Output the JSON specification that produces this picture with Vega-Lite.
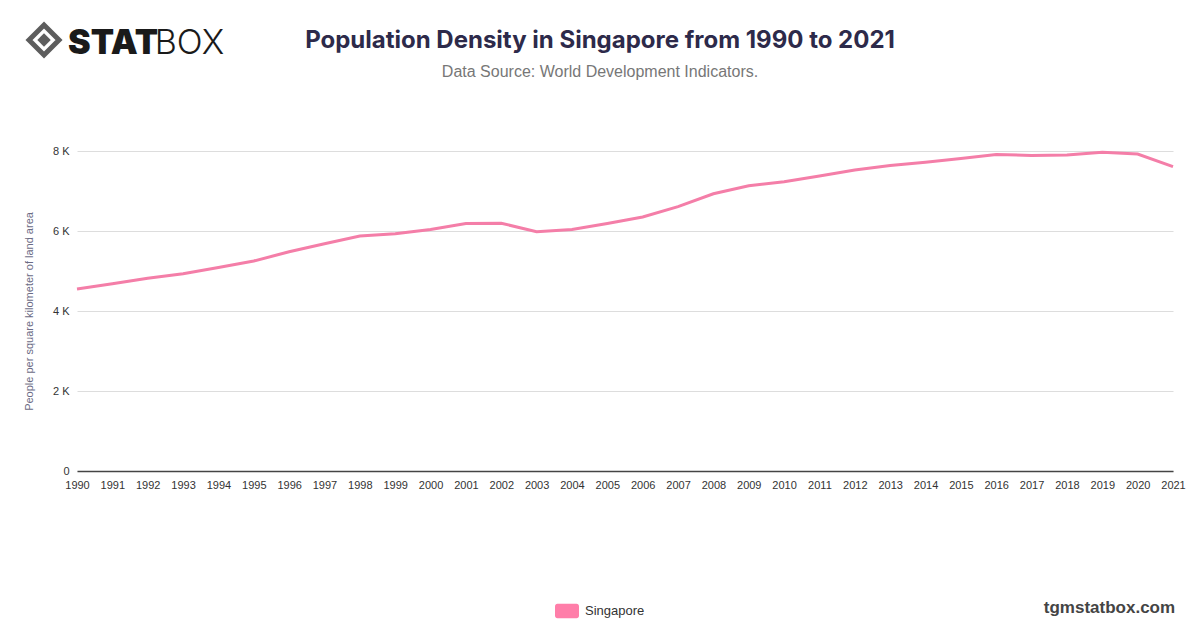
{
  "$schema": "https://vega.github.io/schema/vega-lite/v6.json",
  "width": 1096,
  "height": 320,
  "autosize": {"type": "none"},
  "padding": {"left": 77, "top": 151, "right": 27, "bottom": 157},
  "background": "white",
  "title": {
    "text": "Population Density in Singapore from 1990 to 2021",
    "subtitle": "Data Source: World Development Indicators.",
    "anchor": "middle",
    "frame": "group",
    "dx": -25,
    "offset": 0,
    "dy": 65,
    "font": "Inter",
    "fontSize": 24,
    "fontWeight": 700,
    "color": "#2d2a4a",
    "subtitleFont": "Liberation Sans",
    "subtitleFontSize": 16,
    "subtitleColor": "#777777",
    "subtitlePadding": 11
  },
  "resolve": {"scale": {"x": "independent"}},
  "layer": [
    {
      "data": {
        "values": [
          {"year": 1990, "density": 4550, "country": "Singapore"},
          {"year": 1991, "density": 4680, "country": "Singapore"},
          {"year": 1992, "density": 4820, "country": "Singapore"},
          {"year": 1993, "density": 4930, "country": "Singapore"},
          {"year": 1994, "density": 5090, "country": "Singapore"},
          {"year": 1995, "density": 5250, "country": "Singapore"},
          {"year": 1996, "density": 5480, "country": "Singapore"},
          {"year": 1997, "density": 5680, "country": "Singapore"},
          {"year": 1998, "density": 5875, "country": "Singapore"},
          {"year": 1999, "density": 5930, "country": "Singapore"},
          {"year": 2000, "density": 6040, "country": "Singapore"},
          {"year": 2001, "density": 6190, "country": "Singapore"},
          {"year": 2002, "density": 6195, "country": "Singapore"},
          {"year": 2003, "density": 5980, "country": "Singapore"},
          {"year": 2004, "density": 6040, "country": "Singapore"},
          {"year": 2005, "density": 6190, "country": "Singapore"},
          {"year": 2006, "density": 6350, "country": "Singapore"},
          {"year": 2007, "density": 6610, "country": "Singapore"},
          {"year": 2008, "density": 6930, "country": "Singapore"},
          {"year": 2009, "density": 7130, "country": "Singapore"},
          {"year": 2010, "density": 7230, "country": "Singapore"},
          {"year": 2011, "density": 7375, "country": "Singapore"},
          {"year": 2012, "density": 7525, "country": "Singapore"},
          {"year": 2013, "density": 7640, "country": "Singapore"},
          {"year": 2014, "density": 7720, "country": "Singapore"},
          {"year": 2015, "density": 7810, "country": "Singapore"},
          {"year": 2016, "density": 7915, "country": "Singapore"},
          {"year": 2017, "density": 7890, "country": "Singapore"},
          {"year": 2018, "density": 7900, "country": "Singapore"},
          {"year": 2019, "density": 7970, "country": "Singapore"},
          {"year": 2020, "density": 7925, "country": "Singapore"},
          {"year": 2021, "density": 7610, "country": "Singapore"}
        ]
      },
      "mark": {"type": "line", "strokeWidth": 3, "interpolate": "linear"},
      "encoding": {
        "x": {
          "field": "year",
          "type": "ordinal",
          "scale": {"type": "point", "padding": 0},
          "axis": {
            "title": null,
            "labelAngle": 0,
            "labelOverlap": false
          }
        },
        "y": {
          "field": "density",
          "type": "quantitative",
          "scale": {"domain": [0, 8000], "nice": false},
          "axis": {
            "title": "People per square kilometer of land area",
            "values": [0, 2000, 4000, 6000, 8000],
            "labelExpr": "datum.value == 0 ? '0' : (datum.value / 1000) + ' K'"
          }
        },
        "color": {
          "field": "country",
          "type": "nominal",
          "scale": {"range": ["#f47ea8"]},
          "legend": {
            "title": null,
            "orient": "none",
            "legendX": 478,
            "legendY": 448,
            "symbolType": "M-0.8,-0.6H0.8A0.2,0.2 0 0 1 1,-0.4V0.4A0.2,0.2 0 0 1 0.8,0.6H-0.8A0.2,0.2 0 0 1 -1,0.4V-0.4A0.2,0.2 0 0 1 -0.8,-0.6Z",
            "symbolSize": 576,
            "symbolStrokeWidth": 0,
            "symbolFillColor": "#ff7ea9",
            "labelFont": "Liberation Sans",
            "labelFontSize": 13,
            "labelColor": "#333333",
            "labelOffset": 6
          }
        }
      }
    },
    {
      "data": {"values": [{"icon": "outer"}]},
      "mark": {"type": "point", "shape": "diamond", "filled": true, "fill": "white", "stroke": "#1a1a1a", "strokeWidth": 5, "size": 900, "clip": false},
      "encoding": {
        "x": {"datum": 1989.067, "type": "quantitative", "scale": {"domain": [1990, 2021], "nice": false, "zero": false}, "axis": null},
        "y": {"datum": 10775, "type": "quantitative"}
      }
    },
    {
      "data": {"values": [{"icon": "inner"}]},
      "mark": {"type": "point", "shape": "diamond", "filled": true, "fill": "#1a1a1a", "size": 180, "clip": false},
      "encoding": {
        "x": {"datum": 1989.067, "type": "quantitative", "scale": {"domain": [1990, 2021], "nice": false, "zero": false}, "axis": null},
        "y": {"datum": 10775, "type": "quantitative"}
      }
    },
    {
      "data": {"values": [{"label": "STAT"}]},
      "mark": {"type": "text", "font": "Inter", "fontWeight": 900, "fontSize": 34, "color": "#1a1a1a", "align": "left", "baseline": "alphabetic", "clip": false},
      "encoding": {
        "text": {"field": "label"},
        "x": {"datum": 1989.745, "type": "quantitative", "scale": {"domain": [1990, 2021], "nice": false, "zero": false}, "axis": null},
        "y": {"datum": 10425, "type": "quantitative"}
      }
    },
    {
      "data": {"values": [{"label": "BOX"}]},
      "mark": {"type": "text", "font": "Inter", "fontWeight": 300, "fontSize": 34, "color": "#1a1a1a", "align": "left", "baseline": "alphabetic", "clip": false},
      "encoding": {
        "text": {"field": "label"},
        "x": {"datum": 1992.2, "type": "quantitative", "scale": {"domain": [1990, 2021], "nice": false, "zero": false}, "axis": null},
        "y": {"datum": 10425, "type": "quantitative"}
      }
    },
    {
      "data": {"values": [{"label": "tgmstatbox.com"}]},
      "mark": {"type": "text", "font": "Liberation Sans", "fontWeight": "bold", "fontSize": 17, "color": "#444444", "align": "right", "baseline": "alphabetic", "clip": false},
      "encoding": {
        "text": {"field": "label"},
        "x": {"datum": 2021.06, "type": "quantitative", "scale": {"domain": [1990, 2021], "nice": false, "zero": false}, "axis": null},
        "y": {"datum": -3550, "type": "quantitative"}
      }
    }
  ],
  "config": {
    "view": {"stroke": null},
    "axisX": {
      "labelOverlap": false,
      "labelFlush": false,
      "grid": false,
      "ticks": false,
      "labelPadding": 8,
      "labelFont": "Liberation Sans",
      "labelFontSize": 11,
      "labelColor": "#333333",
      "domainColor": "#444444",
      "domainWidth": 1.5
    },
    "axisY": {
      "titleFont": "Liberation Sans",
      "titleFontSize": 11,
      "titleFontWeight": "normal",
      "titleColor": "#6b6b85",
      "titlePadding": 18,
      "labelFont": "Liberation Sans",
      "labelFontSize": 11,
      "labelColor": "#333333",
      "labelPadding": 8,
      "ticks": false,
      "domain": false,
      "gridColor": "#dddddd",
      "gridWidth": 1
    }
  }
}
